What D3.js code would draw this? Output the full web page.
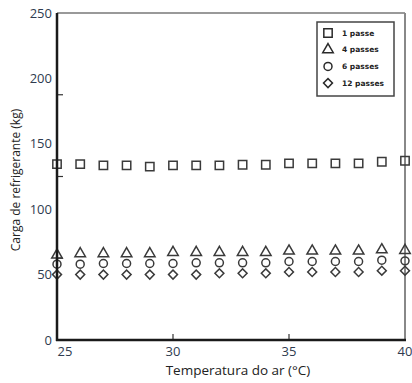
<!DOCTYPE html>
<html>
<head>
<meta charset="utf-8">
<script src="https://cdnjs.cloudflare.com/ajax/libs/d3/7.8.5/d3.min.js"></script>
<style>
  body { margin: 0; background: #fff; }
  svg { display: block; }
</style>
</head>
<body>
<div id="graph"></div>
<script>
// temperatura do ar (°C) e carga de refrigerante (kg) por numero de passes
var temps = [25, 26, 27, 28, 29, 30, 31, 32, 33, 34, 35, 36, 37, 38, 39, 40];
var passe1 = [134.5, 134.5, 133.5, 133.5, 132.5, 133.5, 133.5, 133.5, 134, 134, 135, 135, 135, 135, 136.3, 137];
var passes4 = [65, 66, 66, 66, 66, 67, 67, 67, 67, 67, 68, 68, 68, 68, 69, 68.5];
var passes6 = [58, 58, 58.5, 58.5, 58.5, 58.5, 59, 59, 59, 59, 60, 60, 60, 60, 61, 60.5];
var passes12 = [50, 50, 50, 50, 50, 50, 50, 51, 51, 51, 52, 52, 52, 52, 53, 53];

var seriesNames = ["1 passe", "4 passes", "6 passes", "12 passes"];
var seriesData = [passe1, passes4, passes6, passes12];

var yTicks = [0, 50, 100, 150, 200, 250];
var yMinor = [62.5, 125, 187.5];   // small inner ticks on the left axis
var xTicks = [25, 30, 35, 40];

const fullwidth = 412;
const fullheight = 383;
const padL = 57, padR = 405, padT = 13, padB = 340;

var xScale = d3.scaleLinear().domain([25, 40]).range([padL, padR]);
var yScale = d3.scaleLinear().domain([0, 250]).range([padB, padT]);

var svg = d3.select("#graph").append("svg")
  .attr("width", fullwidth)
  .attr("height", fullheight);

//Frame: top and right lighter
svg.append("line").attr("x1", padL).attr("x2", padR).attr("y1", padT).attr("y2", padT)
  .attr("stroke", "#777").attr("stroke-width", 1.5);
svg.append("line").attr("x1", padR).attr("x2", padR).attr("y1", padT).attr("y2", padB)
  .attr("stroke", "#888").attr("stroke-width", 2);

//Y labels
svg.append("g").selectAll("text").data(yTicks).enter().append("text")
  .attr("x", 52)
  .attr("y", d => yScale(d))
  .attr("dy", "0.35em")
  .attr("text-anchor", "end")
  .attr("font-family", "Open Sans, sans-serif")
  .attr("font-size", 13)
  .attr("fill", "#2f3b4f")
  .text(d => d);

//Small ticks on y axis
svg.append("g").selectAll("line").data(yMinor).enter().append("line")
  .attr("x1", padL).attr("x2", padL + 6)
  .attr("y1", d => yScale(d)).attr("y2", d => yScale(d))
  .attr("stroke", "#333").attr("stroke-width", 1.2);

//X labels
svg.append("g").selectAll("text").data(xTicks).enter().append("text")
  .attr("x", d => d == 25 ? xScale(d) + 8 : xScale(d))
  .attr("y", 356)
  .attr("text-anchor", "middle")
  .attr("font-family", "Open Sans, sans-serif")
  .attr("font-size", 13)
  .attr("fill", "#2f3b4f")
  .text(d => d);

//Ticks on x axis (inner)
svg.append("g").selectAll("line").data([30, 35]).enter().append("line")
  .attr("x1", d => xScale(d)).attr("x2", d => xScale(d))
  .attr("y1", padB).attr("y2", padB - 6)
  .attr("stroke", "#333").attr("stroke-width", 1.2);

//Axis titles
svg.append("text")
  .attr("x", 238).attr("y", 375)
  .attr("text-anchor", "middle")
  .attr("font-family", "Open Sans, sans-serif")
  .attr("font-size", 13.5)
  .attr("fill", "#222")
  .text("Temperatura do ar (°C)");

svg.append("text")
  .attr("transform", "translate(20,180) rotate(-90)")
  .attr("text-anchor", "middle")
  .attr("font-family", "Open Sans, sans-serif")
  .attr("font-size", 12)
  .attr("fill", "#222")
  .text("Carga de refrigerante (kg)");

//Marker shapes
var shapes = [
  d3.symbol().type(d3.symbolSquare).size(70),
  d3.symbol().type(d3.symbolTriangle).size(48),
  d3.symbol().type(d3.symbolCircle).size(50),
  d3.symbol().type(d3.symbolSquare).size(40)
];
var rot = [0, 0, 0, 45];

seriesData.forEach(function(vals, s) {
  svg.append("g")
    .selectAll("path")
    .data(vals)
    .enter().append("path")
      .attr("d", shapes[s]())
      .attr("transform", (d, i) => "translate(" + xScale(temps[i]) + "," + yScale(d) + ") rotate(" + rot[s] + ")")
      .attr("fill", "none")
      .attr("stroke", "#3a3a3a")
      .attr("stroke-width", 1.5);
});

//Left and bottom axis lines on top
svg.append("line").attr("x1", padL).attr("x2", padL).attr("y1", padT).attr("y2", padB + 1)
  .attr("stroke", "#1a1a1a").attr("stroke-width", 2.5);
svg.append("line").attr("x1", padL - 1).attr("x2", padR + 1).attr("y1", padB).attr("y2", padB)
  .attr("stroke", "#1a1a1a").attr("stroke-width", 2.5);

//Legend
var legend = svg.append("g").attr("id", "legend");
legend.append("rect")
  .attr("x", 317).attr("y", 22).attr("width", 77).attr("height", 74)
  .attr("fill", "#fff").attr("stroke", "#444").attr("stroke-width", 1.5);

seriesNames.forEach(function(name, s) {
  var cy = 33 + s * 16.7;
  legend.append("path")
    .attr("d", shapes[s]())
    .attr("transform", "translate(328," + cy + ") rotate(" + rot[s] + ")")
    .attr("fill", "none")
    .attr("stroke", "#2a2a2a")
    .attr("stroke-width", 1.5);
  legend.append("text")
    .attr("x", 342).attr("y", cy)
    .attr("dy", "0.35em")
    .attr("font-family", "DejaVu Sans, sans-serif")
    .attr("font-weight", "bold")
    .attr("font-size", 7.5)
    .attr("fill", "#222")
    .text(name);
});
</script>
</body>
</html>
